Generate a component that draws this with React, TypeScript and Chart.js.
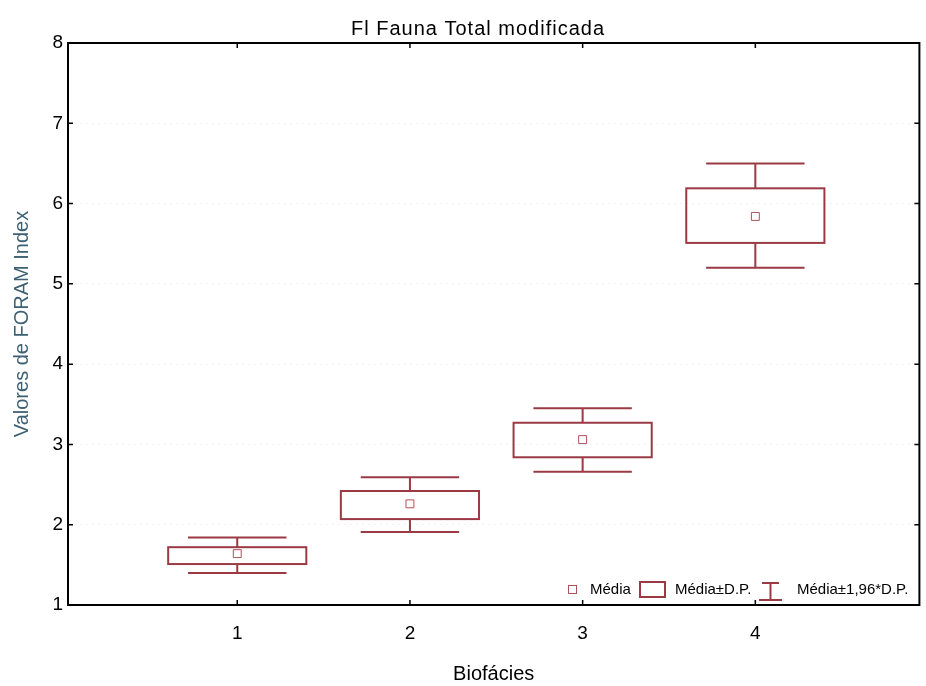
import { useEffect, useRef } from 'react';
import { Chart, registerables } from 'chart.js';

Chart.register(...registerables);

// ---- data ----
const categories = [1, 2, 3, 4];
const means = [1.64, 2.26, 3.06, 5.84];
const sdLow = [1.51, 2.07, 2.84, 5.51];
const sdHigh = [1.72, 2.42, 3.27, 6.19];
const ciLow = [1.4, 1.91, 2.66, 5.2];
const ciHigh = [1.84, 2.59, 3.45, 6.5];
const xTickLabels = ['1', '2', '3', '4'];
const yTickValues = [1, 2, 3, 4, 5, 6, 7, 8];
const titleText = 'Fl Fauna Total modificada';
const xTitle = 'Biofácies';
const yTitle = 'Valores de FORAM Index';
const legendLabels = ['Média', 'Média±D.P.', 'Média±1,96*D.P.'];

// ---- styles ----
const MAROON = '#9b3a45';
const MEAN_COLOR = '#b0505b';
const FONT = '"Liberation Sans", Arial, sans-serif';
const BOX_HALF = 0.4;
const WHISKER_HALF = 0.285;
const X_MIN = 0.02;
const X_MAX = 4.95;

const boxPlugin = {
  id: 'boxWhisker',
  beforeDatasetsDraw(chart: any) {
    const { ctx, scales } = chart;
    const x = scales.x;
    const y = scales.y;
    ctx.save();
    ctx.strokeStyle = MAROON;
    ctx.lineWidth = 2;
    categories.forEach((c, i) => {
      const xc = x.getPixelForValue(c);
      const bl = x.getPixelForValue(c - BOX_HALF);
      const br = x.getPixelForValue(c + BOX_HALF);
      const wl = x.getPixelForValue(c - WHISKER_HALF);
      const wr = x.getPixelForValue(c + WHISKER_HALF);
      const yTop = y.getPixelForValue(sdHigh[i]);
      const yBot = y.getPixelForValue(sdLow[i]);
      const yHi = y.getPixelForValue(ciHigh[i]);
      const yLo = y.getPixelForValue(ciLow[i]);
      ctx.strokeRect(bl, yTop, br - bl, yBot - yTop);
      ctx.beginPath();
      ctx.moveTo(xc, yTop);
      ctx.lineTo(xc, yHi);
      ctx.moveTo(wl, yHi);
      ctx.lineTo(wr, yHi);
      ctx.moveTo(xc, yBot);
      ctx.lineTo(xc, yLo);
      ctx.moveTo(wl, yLo);
      ctx.lineTo(wr, yLo);
      ctx.stroke();
    });
    ctx.restore();
  },
  afterDraw(chart: any) {
    const { ctx, chartArea, scales } = chart;
    const { left, right, top, bottom } = chartArea;
    const x = scales.x;
    const y = scales.y;
    ctx.save();
    // frame
    ctx.strokeStyle = '#000';
    ctx.lineWidth = 2;
    ctx.strokeRect(left, top, right - left, bottom - top);
    // inner ticks
    ctx.lineWidth = 1.5;
    ctx.beginPath();
    yTickValues.forEach((v) => {
      const py = y.getPixelForValue(v);
      ctx.moveTo(left, py);
      ctx.lineTo(left + 5, py);
      ctx.moveTo(right, py);
      ctx.lineTo(right - 5, py);
    });
    categories.forEach((c) => {
      const px = x.getPixelForValue(c);
      ctx.moveTo(px, bottom);
      ctx.lineTo(px, bottom - 5);
      ctx.moveTo(px, top);
      ctx.lineTo(px, top + 5);
    });
    ctx.stroke();

    // title
    ctx.fillStyle = '#000';
    ctx.font = `20px ${FONT}`;
    (ctx as any).letterSpacing = '1px';
    ctx.textAlign = 'center';
    ctx.textBaseline = 'middle';
    ctx.fillText(titleText, 478, 29);
    (ctx as any).letterSpacing = '0px';

    // legend
    ctx.font = `15px ${FONT}`;
    ctx.textAlign = 'left';
    ctx.textBaseline = 'middle';
    const ly = 590;
    ctx.strokeStyle = MEAN_COLOR;
    ctx.lineWidth = 1;
    ctx.strokeRect(568.5, ly - 4.5, 8, 8);
    ctx.fillStyle = '#000';
    ctx.fillText(legendLabels[0], 590, ly);
    ctx.strokeStyle = MAROON;
    ctx.lineWidth = 2;
    ctx.strokeRect(640, 582, 25, 15);
    ctx.fillText(legendLabels[1], 675, ly);
    ctx.beginPath();
    ctx.moveTo(762, 583);
    ctx.lineTo(779, 583);
    ctx.moveTo(770.5, 583);
    ctx.lineTo(770.5, 600);
    ctx.moveTo(759, 600);
    ctx.lineTo(782, 600);
    ctx.stroke();
    ctx.fillText(legendLabels[2], 797, ly);
    ctx.restore();
  },
};

export default function App() {
  const ref = useRef<HTMLCanvasElement | null>(null);
  useEffect(() => {
    document.body.style.margin = '0';
    const canvas = ref.current;
    if (!canvas) return;
    const chart = new Chart(canvas, {
      type: 'scatter',
      data: {
        datasets: [
          {
            label: legendLabels[0],
            data: categories.map((c, i) => ({ x: c, y: means[i] })),
            pointStyle: 'rect',
            pointRadius: 5.6,
            pointHoverRadius: 5.6,
            pointBorderWidth: 1,
            borderColor: MEAN_COLOR,
            backgroundColor: '#ffffff',
            showLine: false,
          },
        ],
      },
      options: {
        responsive: false,
        animation: false,
        devicePixelRatio: 1,
        layout: { padding: { top: 43, right: 1, left: 0, bottom: 0 } },
        plugins: {
          legend: { display: false },
          tooltip: { enabled: false },
          title: { display: false },
        },
        scales: {
          x: {
            type: 'linear',
            min: X_MIN,
            max: X_MAX,
            afterFit: (s: any) => {
              s.height = 81;
              s.paddingLeft = 0;
              s.paddingRight = 0;
            },
            afterBuildTicks: (s: any) => {
              s.ticks = categories.map((c) => ({ value: c }));
            },
            ticks: {
              callback: (v: any) => {
                const idx = categories.indexOf(Number(v));
                return idx >= 0 ? xTickLabels[idx] : '';
              },
              color: '#000',
              font: { family: FONT, size: 19 },
              padding: 17,
              maxRotation: 0,
            },
            grid: { display: false, drawTicks: false },
            border: { display: false },
            title: {
              display: true,
              text: xTitle,
              color: '#000',
              font: { family: FONT, size: 20 },
              padding: { top: 1, bottom: 0 },
            },
          },
          y: {
            type: 'linear',
            min: 1,
            max: 8,
            afterFit: (s: any) => {
              s.width = 68;
            },
            afterBuildTicks: (s: any) => {
              s.ticks = yTickValues.map((v) => ({ value: v }));
            },
            ticks: {
              color: '#000',
              font: { family: FONT, size: 19 },
              padding: 5,
            },
            grid: {
              display: true,
              drawTicks: false,
              color: 'rgba(0,0,0,0.05)',
              lineWidth: 1,
            },
            border: { display: false, dash: [2, 4] },
            title: {
              display: true,
              text: yTitle,
              color: '#3d6072',
              font: { family: FONT, size: 20 },
              padding: { top: 10, bottom: 0 },
            },
          },
        },
      },
      plugins: [boxPlugin],
    });
    return () => chart.destroy();
  }, []);
  return (
    <div style={{ width: 926, height: 686 }}>
      <canvas ref={ref} width={926} height={686} style={{ width: 926, height: 686, display: 'block' }} />
    </div>
  );
}
